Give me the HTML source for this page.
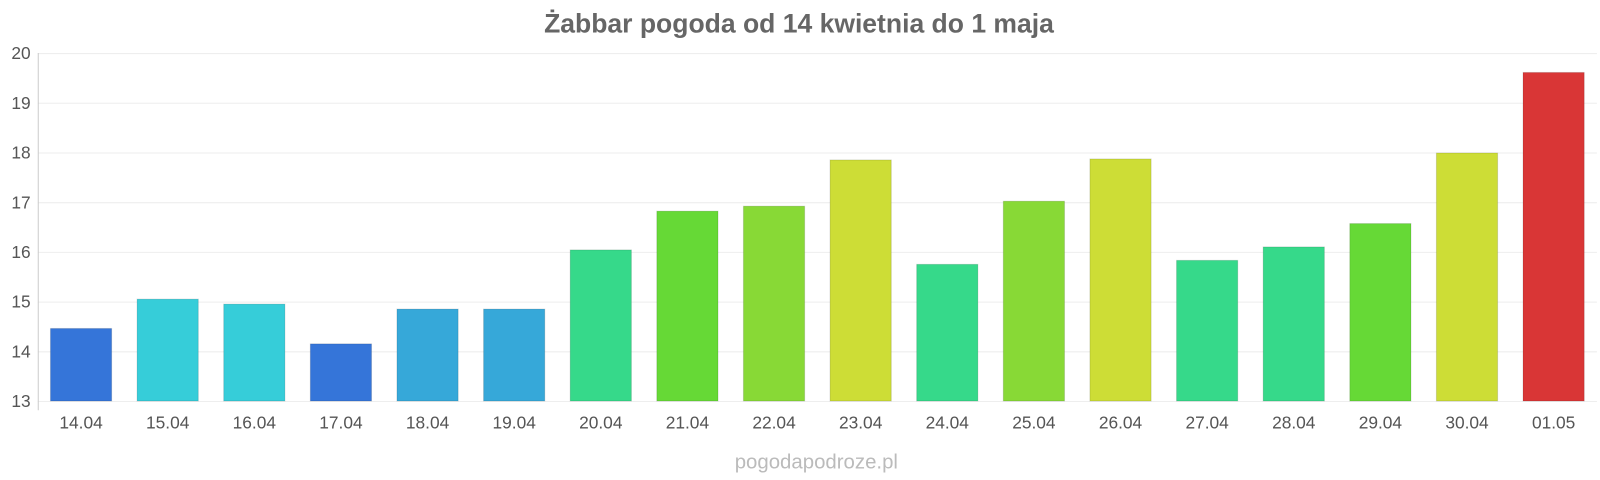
<!DOCTYPE html>
<html><head><meta charset="utf-8"><style>
html,body{margin:0;padding:0;background:#fff;}
svg{display:block;font-family:"Liberation Sans",sans-serif;}
</style></head><body>
<svg id="chart" width="1600" height="480" viewBox="0 0 1568 470.4">
<text x="783" y="32" text-anchor="middle" font-size="26" font-weight="bold" fill="#666">Żabbar pogoda od 14 kwietnia do 1 maja</text>
<g id="grid"></g><g id="bars"></g><g id="labels"></g>
<line x1="37.5" y1="52" x2="37.5" y2="402" stroke="#ccc"/>
<text x="800" y="459" text-anchor="middle" font-size="20" fill="#bbb">pogodapodroze.pl</text>
</svg>
<script>
const categories=["14.04","15.04","16.04","17.04","18.04","19.04","20.04","21.04","22.04","23.04","24.04","25.04","26.04","27.04","28.04","29.04","30.04","01.05"];
const values=[14.46,15.05,14.95,14.15,14.85,14.85,16.04,16.82,16.92,17.85,15.75,17.02,17.87,15.83,16.10,16.57,17.99,19.61];
const yTicks=[13,14,15,16,17,18,19,20];
const colors=["#3575d9","#36cdd9","#36cdd9","#3575d9","#36a8d9","#36a8d9","#36d98a","#66d936","#88d936","#cddd36","#36d98a","#88d936","#cddd36","#36d98a","#36d98a","#66d936","#cddd36","#d93636"];
const NS="http://www.w3.org/2000/svg";
const x0=37,x1=1565,yMin=13,yMax=20,py0=393,py1=52;
const y=v=>py0-(v-yMin)/(yMax-yMin)*(py0-py1);
const slot=(x1-x0)/categories.length;
const xc=i=>x0+slot*(i+0.5);
const grid=document.getElementById('grid'),bars=document.getElementById('bars'),labels=document.getElementById('labels');
yTicks.forEach(t=>{
 const l=document.createElementNS(NS,'line');
 l.setAttribute('x1',x0);l.setAttribute('x2',x1);l.setAttribute('y1',y(t)+0.5);l.setAttribute('y2',y(t)+0.5);
 l.setAttribute('stroke','#eee');
 
 
 grid.appendChild(l);
 const tx=document.createElementNS(NS,'text');
 tx.setAttribute('x',30);tx.setAttribute('y',y(t)+6);tx.setAttribute('text-anchor','end');
 tx.setAttribute('font-size','17');tx.setAttribute('fill','#555');tx.textContent=t;
 
 
 labels.appendChild(tx);
});
categories.forEach((c,i)=>{
 const r=document.createElementNS(NS,'rect');
 const top=y(values[i]);
 r.setAttribute('x',xc(i)-30);r.setAttribute('width',60);
 r.setAttribute('y',top);r.setAttribute('height',py0-top);
 r.setAttribute('fill',colors[i]);r.setAttribute('stroke','rgba(0,0,0,0.12)');
 
 
 bars.appendChild(r);
 const tx=document.createElementNS(NS,'text');
 tx.setAttribute('x',xc(i));tx.setAttribute('y',420);tx.setAttribute('text-anchor','middle');
 tx.setAttribute('font-size','17');tx.setAttribute('fill','#555');tx.textContent=c;
 
 
 labels.appendChild(tx);
});
</script>
</body></html>
